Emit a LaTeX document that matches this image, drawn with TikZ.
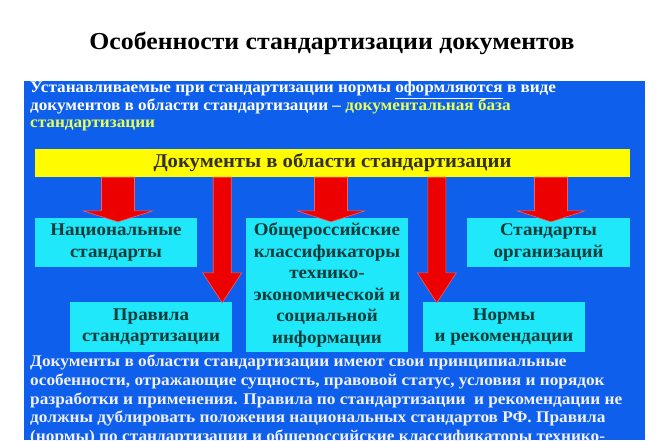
\documentclass[tikz,border=0pt]{standalone}
\usepackage{fontspec}
\setmainfont{Liberation Serif}[FakeStretch=1.06]
\usetikzlibrary{calc}
\definecolor{panelblue}{RGB}{14,96,236}
\definecolor{baryellow}{RGB}{255,252,0}
\definecolor{boxcyan}{RGB}{30,232,250}
\definecolor{boxtext}{RGB}{10,60,58}
\definecolor{arrowred}{RGB}{236,0,0}
\definecolor{arrowedge}{RGB}{255,90,90}
\definecolor{hiyellow}{RGB}{228,255,90}
\definecolor{bodytext}{RGB}{240,240,255}
\tikzset{
  cbox/.style={fill=boxcyan, text=boxtext, font=\fontsize{17.9}{21.5}\selectfont\bfseries,
    align=center, inner sep=0pt},
  redarr/.style={fill=arrowred, draw=arrowedge, line width=0.6pt, line join=miter}
}
% #1 start, #2 tip, #3 shaft half width, #4 head half width, #5 head length
\newcommand\blockarr[5]{%
  \path[redarr] let \p1=(#1), \p2=(#2) in
    (\x2-#3,\y1) -- (\x2+#3,\y1) -- (\x2+#3,\y2+#5) -- (\x2+#4,\y2+#5) -- (\x2,\y2)
    -- (\x2-#4,\y2+#5) -- (\x2-#3,\y2+#5) -- cycle;}
\begin{document}
\begin{tikzpicture}[x=1pt,y=-1pt]
\useasboundingbox (0,0) rectangle (660,440);
\fill[white] (0,0) rectangle (660,440);
% title
\node[font=\fontsize{24.3}{28}\selectfont\bfseries] (title) at (332,43) {Особенности стандартизации документов};
% panel
\fill[panelblue] (24,81) rectangle (645,440);
\node[anchor=north west, align=left, text=white, inner sep=0pt,
  font=\fontsize{16.2}{17.4}\selectfont\bfseries] (intro) at (30,81.5)
  {Устанавливаемые при стандартизации нормы \underline{оформляются} в виде\\
   документов в области стандартизации -- \textcolor{hiyellow}{документальная база}\\
   \textcolor{hiyellow}{стандартизации}};
% bar
\node[fill=baryellow, minimum width=595pt, minimum height=28pt, inner sep=0pt,
  text=black!85!olive, font=\fontsize{19.5}{22}\selectfont\bfseries] (bar) at (332.5,163)
  {Документы в области стандартизации};
% boxes
\node[cbox, minimum width=162pt, minimum height=49pt] (nat) at (116,242.5) {Национальные\\стандарты};
\node[cbox, minimum width=162pt, minimum height=50pt] (pr) at (151,327) {Правила\\стандартизации};
\node[cbox, minimum width=162pt, minimum height=134pt] (obs) at (327,285)
  {Общероссийские\\классификаторы\\технико-\\экономической и\\социальной\\информации};
\node[cbox, minimum width=163pt, minimum height=49pt] (org) at (548.5,242.5) {Стандарты\\организаций};
\node[cbox, minimum width=162pt, minimum height=50pt] (nr) at (504,327) {Нормы\\и рекомендации};
% tips
\coordinate (t1) at ($(nat.north)+(2,4)$);
\coordinate (t3) at ($(obs.north)+(4,4)$);
\coordinate (t5) at ($(org.north)+(2.5,4)$);
\coordinate (t2) at ($(pr.north east)+(-10,1)$);
\coordinate (t4) at ($(nr.north west)+(14,1)$);
% arrows
\blockarr{bar.south}{t1}{16.5}{35}{11}
\blockarr{bar.south}{t3}{16.5}{34}{11}
\blockarr{bar.south}{t5}{16.5}{34}{11}
\blockarr{bar.south}{t2}{9}{19.5}{30}
\blockarr{bar.south}{t4}{9}{19.5}{30}
% body text
\node[anchor=north west, align=left, text=bodytext, inner sep=0pt,
  font=\fontsize{16.3}{18.7}\selectfont\bfseries] (body) at (30,355)
  {Документы в области стандартизации имеют свои принципиальные\\
   особенности, отражающие сущность, правовой статус, условия и порядок\\
   разработки и применения. Правила по стандартизации~ и рекомендации не\\
   должны дублировать положения национальных стандартов РФ. Правила\\
   (нормы) по стандартизации и общероссийские классификаторы технико-};
\end{tikzpicture}
\end{document}
